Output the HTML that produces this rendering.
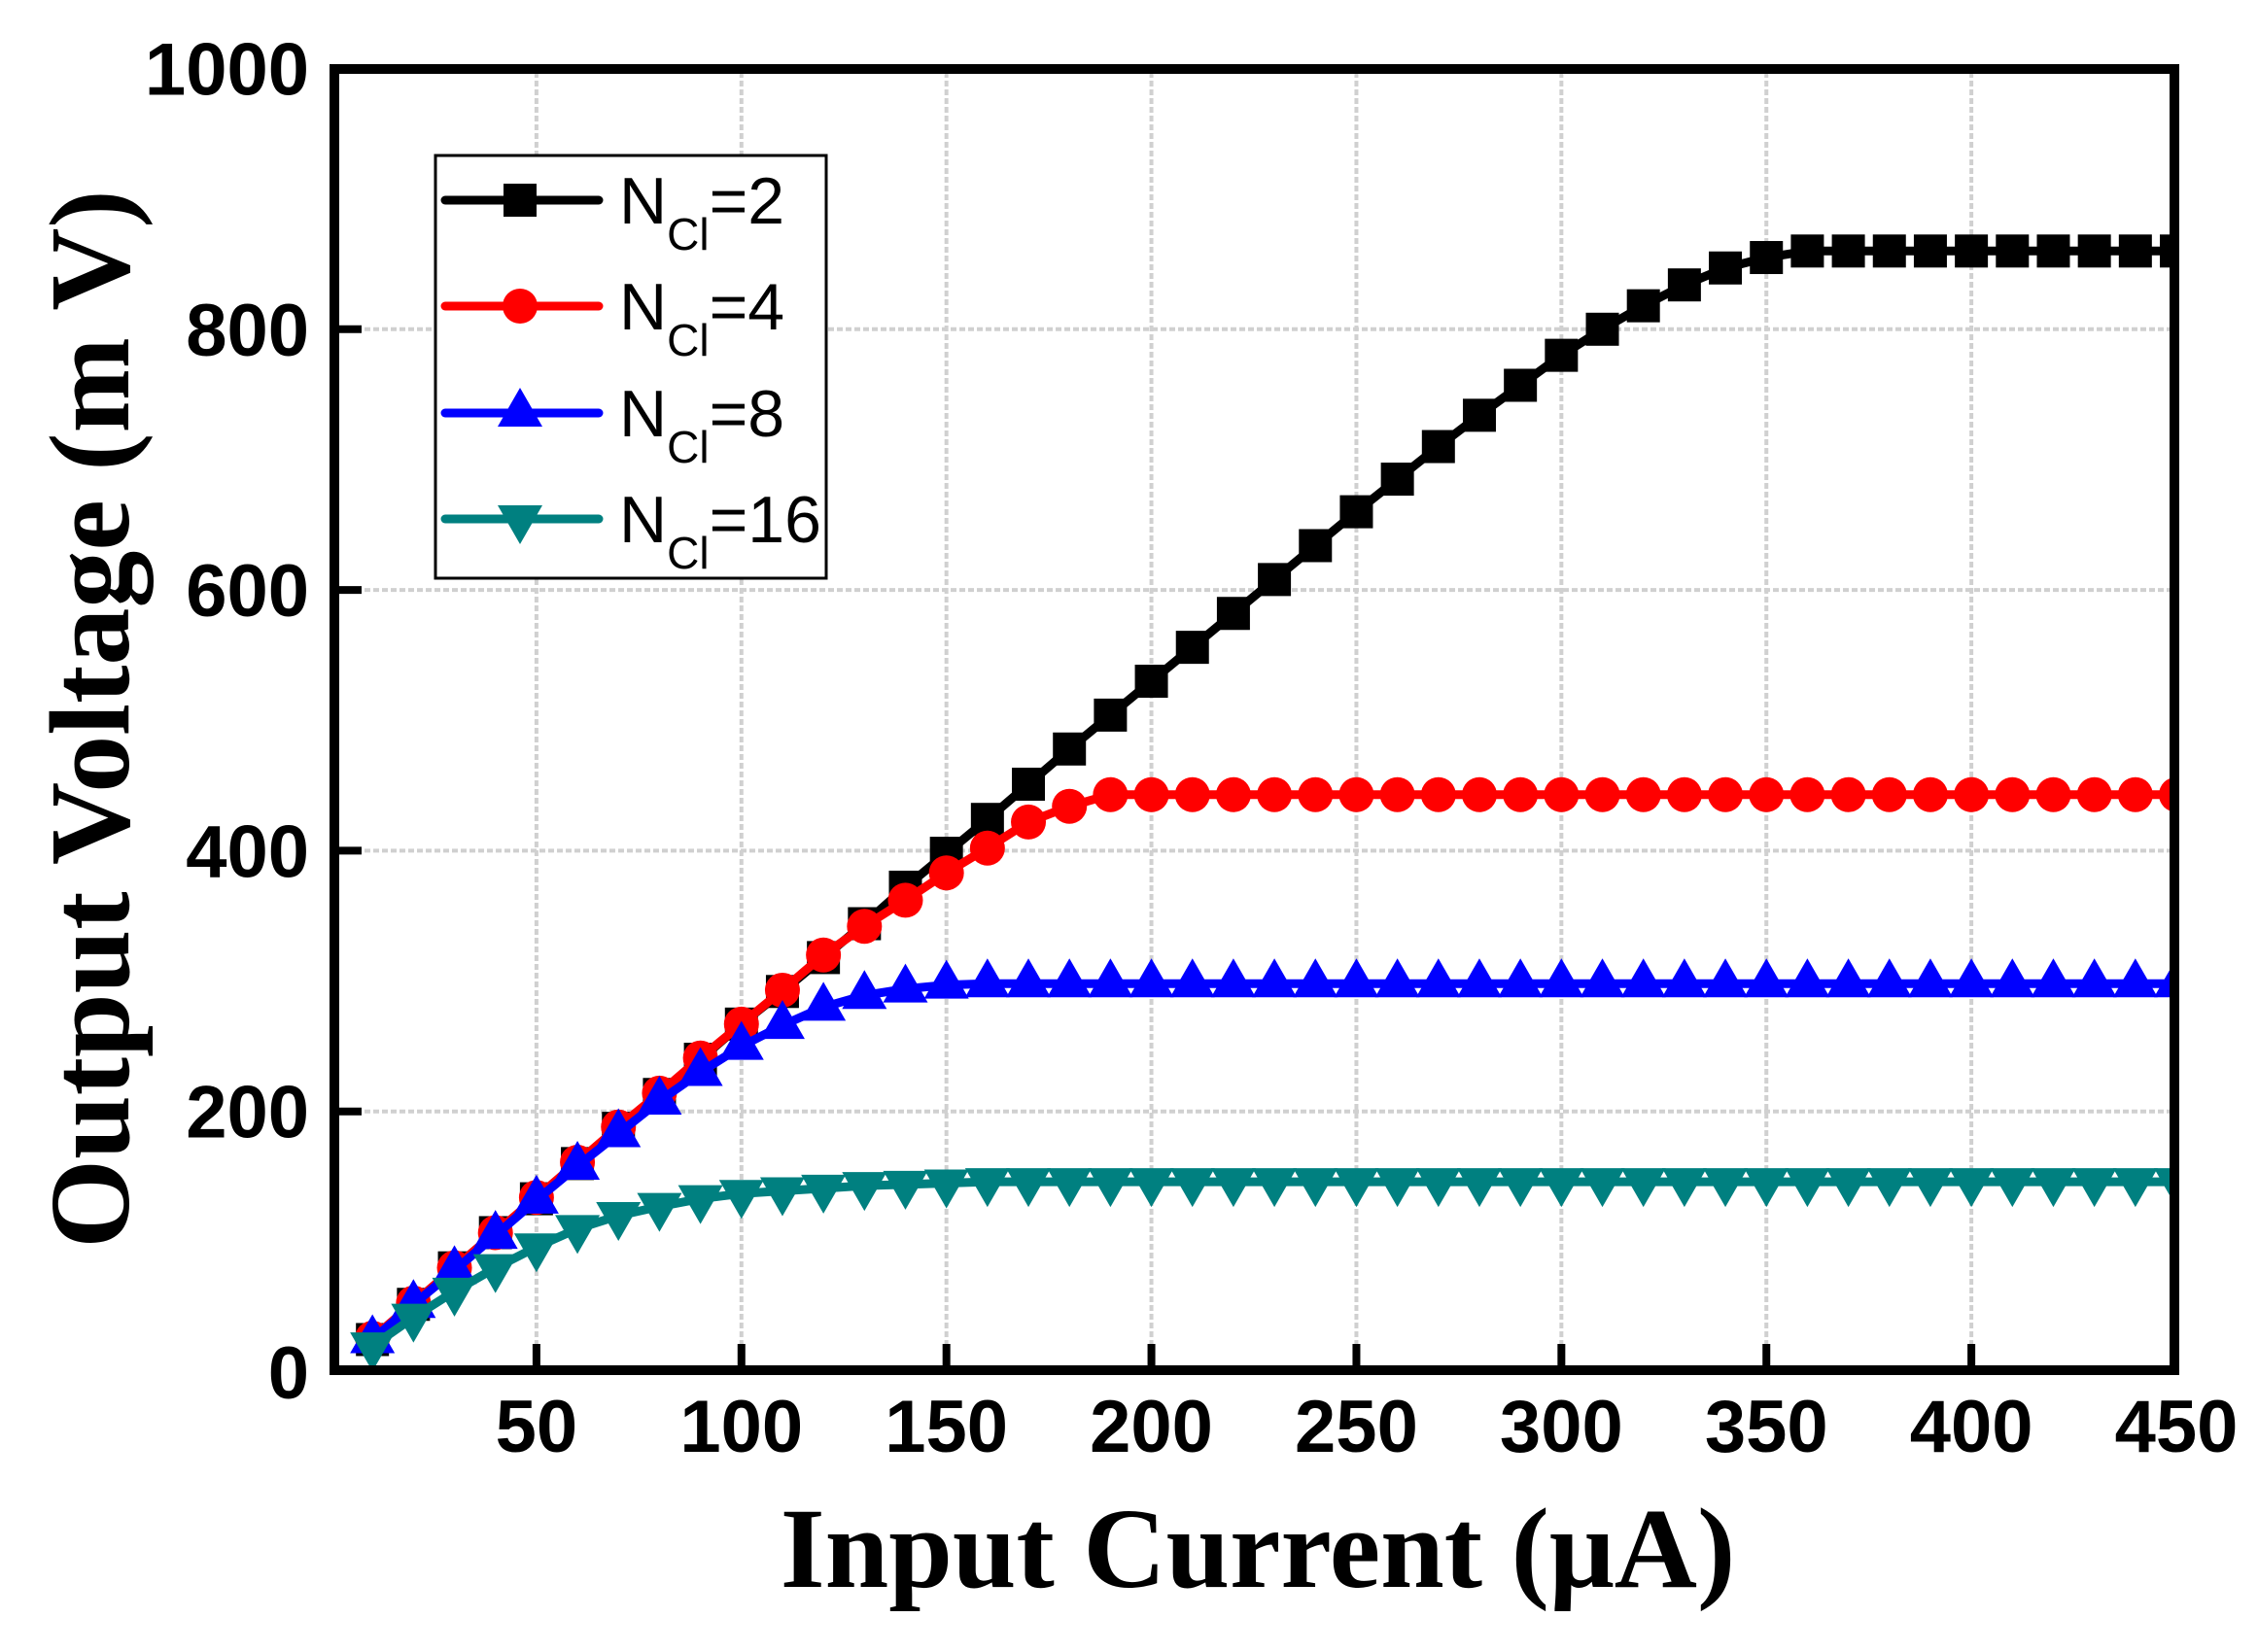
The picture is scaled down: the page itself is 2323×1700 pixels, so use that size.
<!DOCTYPE html>
<html><head><meta charset="utf-8"><style>
html,body{margin:0;padding:0;background:#fff}
svg{display:block}
.tk{font-family:"Liberation Sans",Arial,sans-serif;font-weight:bold;font-size:76px}
.lg{font-family:"Liberation Sans",Arial,sans-serif;font-size:68px}
.ti{font-family:"Liberation Serif","Times New Roman",serif;font-weight:bold;font-size:118px}
</style></head><body>
<svg id="s" width="2323" height="1700" viewBox="0 0 2323 1700" xmlns="http://www.w3.org/2000/svg">
<defs><clipPath id="cp"><rect x="344" y="70" width="1893" height="1340"/></clipPath></defs>
<g id="grid" stroke="#d0d0d0" stroke-width="4" stroke-dasharray="6,3"></g>
<g id="data" clip-path="url(#cp)"></g>
<rect x="344" y="71" width="1893" height="1339" fill="none" stroke="#000" stroke-width="10"/>
<g id="ticks" stroke="#000" stroke-width="8"></g>
<g id="labels" class="tk"></g>
<text class="ti" x="1294" y="1633" text-anchor="middle">Input Current (μA)</text>
<text class="ti" transform="translate(132,740) rotate(-90)" text-anchor="middle">Output Voltage (m V)</text>
<rect x="448" y="160" width="402" height="435" fill="#fff" stroke="#000" stroke-width="3"/>
<g id="leg"></g>
</svg>
<script>
const NS="http://www.w3.org/2000/svg";
function X(v){return 341+v*4.2178}
function Y(v){return 1412-v*1.3415}
function el(p,t,a,txt){const e=document.createElementNS(NS,t);for(const k in a)e.setAttribute(k,a[k]);if(txt!==undefined)e.textContent=txt;document.getElementById(p).appendChild(e);return e}
for(let v=50;v<=400;v+=50){el('grid','line',{x1:X(v),x2:X(v),y1:74,y2:1406});}
for(let v=200;v<=800;v+=200){el('grid','line',{x1:348,x2:2233,y1:Y(v),y2:Y(v)});}
for(let v=50;v<=400;v+=50){el('ticks','line',{x1:X(v),x2:X(v),y1:1410,y2:1383});el('labels','text',{x:X(v),y:1494,'text-anchor':'middle'},String(v));}
el('labels','text',{x:X(450),y:1494,'text-anchor':'middle'},'450');
for(let v=0;v<=1000;v+=200){if(v>0&&v<1000)el('ticks','line',{x1:344,x2:372,y1:Y(v),y2:Y(v)});el('labels','text',{x:318,y:Y(v)+27,'text-anchor':'end'},String(v));}
const xs=[];for(let v=10;v<=450;v+=10)xs.push(v);
const d2=[25,52,80,107,133,160,187,213,240,267,292,318,344,372,398,424,451,478,504,530,556,582,608,634,660,685,710,734,757,780,800,818,834,847,855,860];
const d4=[26,53,80,107,134,161,188,214,241,267,293,320,342,362,383,402,422,434,443];
const d8=[25,52,78,105,132,158,183,208,230,250,266,280,289,294,297,298];
const d16=[20,42,62,80,96,110,120,127,133,137,139,141,143,144,145,146];
function ext(a,n){const r=a.slice();while(r.length<n)r.push(a[a.length-1]);return r}
function marker(g,type,x,y,c){
 if(type=='sq')el(g,'rect',{x:x-17,y:y-17,width:34,height:34,fill:c});
 else if(type=='ci')el(g,'circle',{cx:x,cy:y,r:18,fill:c});
 else if(type=='up')el(g,'polygon',{points:`${x},${y-26} ${x+23},${y+14} ${x-23},${y+14}`,fill:c});
 else el(g,'polygon',{points:`${x},${y+26} ${x+23},${y-14} ${x-23},${y-14}`,fill:c});
}
const series=[[d2,'#000','sq'],[d4,'#ff0000','ci'],[d8,'#0000ff','up'],[d16,'#008080','dn']];
series.forEach(([d,c,t])=>{const v=ext(d,xs.length);
 el('data','polyline',{points:xs.map((x,i)=>X(x)+','+Y(v[i])).join(' '),fill:'none',stroke:c,'stroke-width':9,'stroke-linejoin':'round'});
 xs.forEach((x,i)=>marker('data',t,X(x),Y(v[i]),c));});
const names=['2','4','8','16'];const ly=[206,315,425,534];
series.forEach(([d,c,t],i)=>{
 el('leg','line',{x1:458,x2:616,y1:ly[i],y2:ly[i],stroke:c,'stroke-width':9,'stroke-linecap':'round'});
 marker('leg',t,535,ly[i],c);
 const tx=el('leg','text',{x:637,y:ly[i]+24,class:'lg'});
 const a=document.createElementNS(NS,'tspan');a.textContent='N';tx.appendChild(a);
 const b=document.createElementNS(NS,'tspan');b.setAttribute('font-size','46');b.setAttribute('dy','27');b.textContent='Cl';tx.appendChild(b);
 const e=document.createElementNS(NS,'tspan');e.setAttribute('dy','-27');e.textContent='='+names[i];tx.appendChild(e);
});
</script>
</body></html>
